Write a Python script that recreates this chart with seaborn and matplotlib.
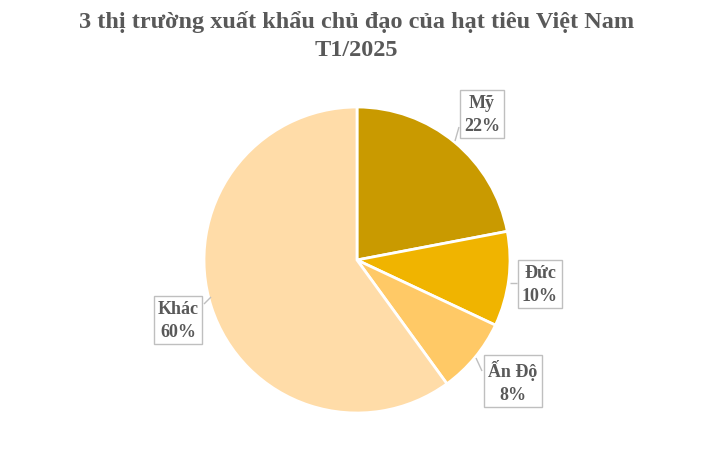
import matplotlib
matplotlib.use("Agg")
import matplotlib.pyplot as plt
import seaborn as sns

categories = ["Mỹ", "Đức", "Ấn Độ", "Khác"]
shares = [22, 10, 8, 60]
colors_hex = ["#C99A00", "#F0B400", "#FFC966", "#FFDCA8"]
title_lines = ["3 thị trường xuất khẩu chủ đạo của hạt tiêu Việt Nam", "T1/2025"]

sns.set_theme(style="white")
plt.rcParams['font.family'] = ['Liberation Serif', 'DejaVu Serif']

W, H = 713, 456
cx, cy, R = 357, 261, 153
fig = plt.figure(figsize=(W / 100, H / 100), dpi=100)
ax = fig.add_axes([0, 0, 1, 1])

palette = sns.color_palette(colors_hex)
ax.pie(shares, colors=palette, startangle=90, counterclock=False,
       radius=1.0, wedgeprops=dict(edgecolor="white", linewidth=2))
ax.set_xlim(-cx / R, (W - cx) / R)
ax.set_ylim(-(H - cy) / R, cy / R)
ax.set_aspect('auto')
ax.axis('off')

def px(x, y):
    return ((x - cx) / R, (cy - y) / R)

# label box centers and leader points (pixel coords)
label_pos = [(482, 115), (540, 285), (513, 382), (178, 321)]
leader = [((455, 142), (459, 128)), ((510, 284), (517, 284)),
          ((476, 359), (482, 372)), ((211, 298), (204, 305))]

for cat, val, pos, (p0, p1) in zip(categories, shares, label_pos, leader):
    x0, y0 = px(*p0)
    x1, y1 = px(*p1)
    ax.plot([x0, x1], [y0, y1], color="#BFBFBF", lw=1, solid_capstyle="butt")
    tx, ty = px(*pos)
    ax.text(tx, ty, f"{cat}\n{val}%", ha="center", va="center",
            fontsize=13, fontweight="bold", color="#595959", linespacing=1.4,
            bbox=dict(boxstyle="square,pad=0.22", fc="white", ec="#BFBFBF", lw=1))

fig.text(0.5, 1 - 22 / H, title_lines[0], ha="center", va="center",
         fontsize=17.5, fontweight="bold", color="#595959")
fig.text(0.5, 1 - 50 / H, title_lines[1], ha="center", va="center",
         fontsize=17.5, fontweight="bold", color="#595959")

fig.savefig("out.png", dpi=100)
